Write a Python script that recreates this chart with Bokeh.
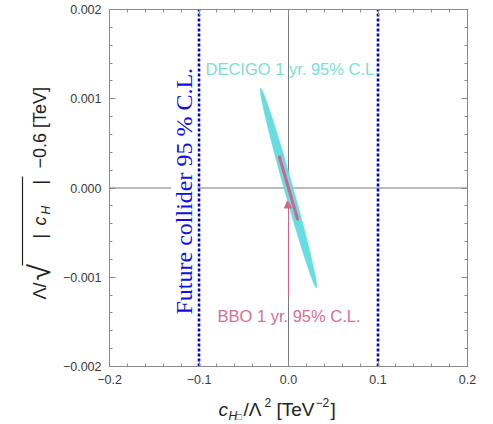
import numpy as np
from bokeh.plotting import figure
from bokeh.models import (Range1d, LinearAxis, FixedTicker, Label, Arrow,
                          CustomJSTickFormatter)
from bokeh.embed import file_html
from bokeh.resources import INLINE

# ---------------- data ----------------
x_ticks = [-0.2, -0.1, 0.0, 0.1, 0.2]
x_tick_labels = ["\u22120.2", "\u22120.1", "0.0", "0.1", "0.2"]
y_ticks = [-0.002, -0.001, 0.0, 0.001, 0.002]
y_tick_labels = ["\u22120.002", "\u22120.001", "0.000", "0.001", "0.002"]

# future collider 95% C.L. bounds
collider_bounds = [-0.1, 0.1]

# DECIGO 1 yr 95% C.L. region: thin ellipse (centre, major half-axis end, minor half-axis)
decigo_center = [0.0, 0.0]
decigo_major = [-0.0313, 0.00112]
decigo_minor = [0.0048, 0.0000136]

# BBO 1 yr 95% C.L. region: thin sliver + small spike along x = 0
bbo_sliver_x = [-0.0101, 0.0101]
bbo_sliver_y = [0.000347, -0.000347]
bbo_tri_x = [-0.0011, -0.0045, 0.0034]
bbo_tri_y = [-0.000146, -0.000224, -0.000224]
bbo_spike_x = [0.0, 0.0]
bbo_spike_y = [-0.000224, -0.00122]

# ---------------- layout ----------------
W, H = 493, 424
FL, FR, FT, FB = 109, 467, 9, 366          # plotting box inside the canvas (px)
XR = (-0.2, 0.2)
YR = (-0.002, 0.002)
kx = (FR - FL) / (XR[1] - XR[0])
ky = (FB - FT) / (YR[1] - YR[0])
x_full = (XR[0] - FL / kx, XR[1] + (W - FR) / kx)
y_full = (YR[0] - (H - FB) / ky, YR[1] + FT / ky)

p = figure(width=W, height=H, output_backend="svg", toolbar_location=None,
           x_range=Range1d(*x_full), y_range=Range1d(*y_full),
           min_border=0, min_border_left=0, min_border_right=0,
           min_border_top=0, min_border_bottom=0,
           x_axis_location=None, y_axis_location=None)
p.grid.visible = False
p.outline_line_color = None
p.background_fill_color = "white"
p.border_fill_color = "white"

x_minor = [round(XR[0] + 0.02 * i, 4) for i in range(21)]
y_minor = [round(YR[0] + 0.0002 * i, 6) for i in range(21)]
FRAME = "#8a8a8a"


def make_axis(ticks, labels, minor, loc, bounds, show_labels):
    ax = LinearAxis(ticker=FixedTicker(ticks=ticks, minor_ticks=minor),
                    fixed_location=loc, bounds=bounds)
    ax.axis_line_color = FRAME
    ax.major_tick_line_color = FRAME
    ax.minor_tick_line_color = FRAME
    ax.major_tick_in = 6
    ax.major_tick_out = 0
    ax.minor_tick_in = 3
    ax.minor_tick_out = 0
    ax.major_label_text_font = "Liberation Sans"
    ax.major_label_text_color = "#3a3a3a"
    ax.major_label_text_font_size = "12.5px"
    if show_labels:
        ax.major_label_overrides = {t: l for t, l in zip(ticks, labels)}
        ax.major_label_standoff = 8
    else:
        ax.formatter = CustomJSTickFormatter(code="return ''")
    return ax


p.add_layout(make_axis(x_ticks, x_tick_labels, x_minor, YR[0], XR, True), "below")
p.add_layout(make_axis(y_ticks, y_tick_labels, y_minor, XR[0], YR, True), "left")
p.add_layout(make_axis(x_ticks, x_tick_labels, x_minor, YR[1], XR, False), "above")
p.add_layout(make_axis(y_ticks, y_tick_labels, y_minor, XR[1], YR, False), "right")

# zero axes (Mathematica style)
p.segment(x0=[XR[0], 0.0], y0=[0.0, YR[0]], x1=[XR[1], 0.0], y1=[0.0, YR[1]],
          line_color="#7a7a7a", line_width=1)

# DECIGO ellipse
t = np.linspace(0, 2 * np.pi, 120)
ex = decigo_center[0] + decigo_major[0] * np.cos(t) + decigo_minor[0] * np.sin(t)
ey = decigo_center[1] + decigo_major[1] * np.cos(t) + decigo_minor[1] * np.sin(t)
p.patch(ex, ey, fill_color="#66dde0", line_color="#66dde0", line_width=0.5)

# BBO region
p.line(bbo_sliver_x, bbo_sliver_y, line_color="#d6628c", line_width=3, line_cap="round")
p.patch(bbo_tri_x, bbo_tri_y, fill_color="#d6628c", line_color="#d6628c")
p.line(bbo_spike_x, bbo_spike_y, line_color="#d6628c", line_width=1)

# collider bounds: dotted blue lines
p.segment(x0=collider_bounds, y0=[YR[0]] * 2, x1=collider_bounds, y1=[YR[1]] * 2,
          line_color="#0000cc", line_width=2.6, line_dash="3 2")

SHIFT = 0.3   # baseline correction (fraction of font size)


def lab(text, x, y, size, color="#222222", font="Liberation Sans", style="normal",
        rotated=False, bg=None):
    """place text whose baseline starts at canvas pixel (x, y) (top-left origin)"""
    if rotated:
        sx, sy, ang = x - SHIFT * size, H - y, np.pi / 2
    else:
        sx, sy, ang = x, H - y + SHIFT * size, 0.0
    L = Label(x=sx, y=sy, x_units="screen", y_units="screen", text=text,
              text_font=font, text_font_size=f"{size}px", text_color=color,
              text_font_style=style, text_align="left", text_baseline="alphabetic",
              angle=ang)
    if bg is not None:
        L.background_fill_color = bg
        L.padding = 0
    p.add_layout(L)


# region labels
lab("Future collider 95 % C.L.", 191, 314, 24, color="#1010e0",
    font="Liberation Serif", rotated=True, bg="white")
lab("DECIGO 1 yr. 95% C.L.", 205, 73, 16.5, color="#7ddfd2")
lab("BBO 1 yr. 95% C.L.", 217, 320, 16.5, color="#d96d93")

# x-axis label: c_{H□}/Λ^2 [TeV^-2]
lab("c", 218, 415, 19, style="italic")
lab("H", 228, 419, 12, style="italic")
lab("\u25a1", 236, 419, 9)
lab("/\u039b", 243, 415, 19)
lab("2", 264, 406, 12)
lab("[TeV", 276, 415, 19)
lab("\u22122", 315, 406, 12)
lab("]", 330, 415, 19)

# y-axis label: Λ/√|c_H| −0.6 [TeV]   (rotated, reads bottom to top)
lab("\u039b/", 45, 299, 18, rotated=True)
lab("\u221a", 48, 280, 30, rotated=True)
lab("|", 45, 238, 18, rotated=True)
lab("c", 45, 225, 18, style="italic", rotated=True)
lab("H", 49, 214, 12, style="italic", rotated=True)
lab("|", 45, 184, 18, rotated=True)
lab("\u22120.6 [TeV]", 45, 168, 18, rotated=True)
p.add_layout(Arrow(x_start=22, y_start=H - 265, x_end=22, y_end=H - 176,
                   start_units="screen", end_units="screen",
                   start=None, end=None, line_color="#222222", line_width=1.2))

open("out.html", "w").write(file_html(p, INLINE))
